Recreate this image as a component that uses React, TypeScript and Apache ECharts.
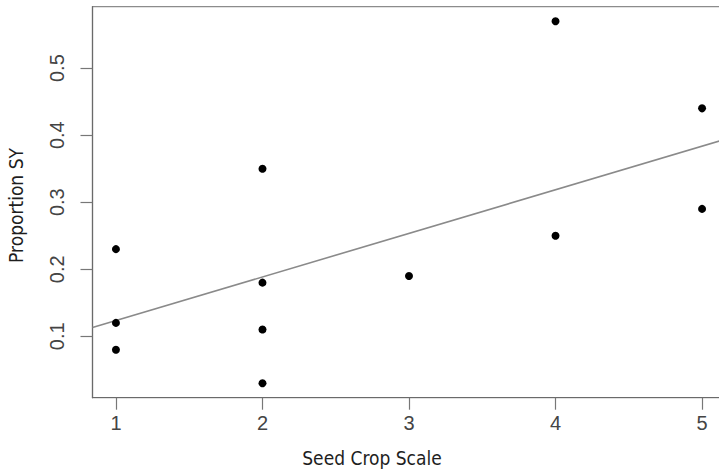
import React, { useEffect, useRef } from "react";
import * as echarts from "echarts";

// Seed Crop Scale (x) vs Proportion SY (y)
const seedCropScale = [1, 1, 1, 2, 2, 2, 2, 3, 4, 4, 5, 5];
const proportionSY = [0.23, 0.12, 0.08, 0.35, 0.18, 0.11, 0.03, 0.19, 0.57, 0.25, 0.44, 0.29];

// Fitted line end points
const fitX = [0.84, 5.16];
const fitY = [0.113, 0.394];

const xTicks = [1, 2, 3, 4, 5];
const yTicks = [0.1, 0.2, 0.3, 0.4, 0.5];

const xTitle = "Seed Crop Scale";
const yTitle = "Proportion SY";

export default function App() {
  const ref = useRef<HTMLDivElement>(null);
  useEffect(() => {
    if (!ref.current) return;
    const chart = echarts.init(ref.current, null, { renderer: "svg" });
    const points = seedCropScale.map((x, i) => [x, proportionSY[i]]);
    const fit = fitX.map((x, i) => [x, fitY[i]]);
    const tickFont = "'Liberation Sans', Arial, sans-serif";
    const titleFont = "'Liberation Sans Narrow', 'DejaVu Sans Condensed', sans-serif";
    chart.setOption({
      animation: false,
      backgroundColor: "#ffffff",
      grid: {
        left: 92.5,
        right: 0.5,
        top: 6.7,
        bottom: 73.3,
        show: true,
        borderColor: "#8c8c8c",
        borderWidth: 1.2,
        backgroundColor: "transparent",
      },
      xAxis: {
        type: "value",
        min: 0.84,
        max: 5.16,
        splitLine: { show: false },
        axisLine: { show: true, onZero: false, lineStyle: { color: "#6a6a6a", width: 1.2 } },
        axisTick: {
          show: true,
          length: 12,
          customValues: xTicks,
          lineStyle: { color: "#777", width: 1.2 },
        },
        axisLabel: {
          customValues: xTicks,
          margin: 15,
          fontSize: 20,
          color: "#444",
          fontFamily: tickFont,
          showMinLabel: true,
          showMaxLabel: true,
        },
      },
      yAxis: {
        type: "value",
        min: 0.0084,
        max: 0.5916,
        splitLine: { show: false },
        axisLine: { show: true, onZero: false, lineStyle: { color: "#6a6a6a", width: 1.2 } },
        axisTick: {
          show: true,
          length: 12,
          customValues: yTicks,
          lineStyle: { color: "#777", width: 1.2 },
        },
        axisLabel: {
          customValues: yTicks,
          rotate: 90,
          margin: 26,
          fontSize: 20,
          color: "#444",
          fontFamily: tickFont,
          formatter: (v: number) => v.toFixed(1),
        },
      },
      series: [
        {
          type: "line",
          data: fit,
          symbol: "none",
          lineStyle: { color: "#8a8a8a", width: 1.6 },
          z: 2,
        },
        {
          type: "scatter",
          data: points,
          symbol: "circle",
          symbolSize: 8,
          itemStyle: { color: "#000000", opacity: 1 },
          z: 3,
        },
      ],
      graphic: [
        {
          type: "text",
          x: 372,
          y: 458,
          style: {
            text: xTitle,
            font: `19px ${titleFont}`,
            fill: "#1e1e1e",
            textAlign: "center",
            textVerticalAlign: "middle",
          },
        },
        {
          type: "text",
          x: 15.5,
          y: 205.5,
          rotation: Math.PI / 2,
          style: {
            text: yTitle,
            font: `19px ${titleFont}`,
            fill: "#1e1e1e",
            textAlign: "center",
            textVerticalAlign: "middle",
          },
        },
      ],
    });
    return () => chart.dispose();
  }, []);
  return (
    <div
      style={{ position: "absolute", left: 0, top: 0, width: 719, height: 471, overflow: "hidden" }}
    >
      <div ref={ref} style={{ position: "absolute", left: 0, top: 0, width: 726, height: 471 }} />
    </div>
  );
}
